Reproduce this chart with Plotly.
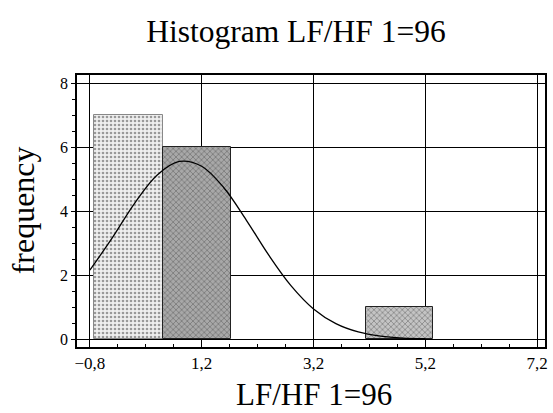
import plotly.graph_objects as go

# Histogram bars
bar_left = [-0.72, 0.50, 4.14]
bar_right = [0.50, 1.72, 5.33]
counts = [7, 6, 1]

# Fitted normal curve
curve_x = [-0.8, -0.4, 0.0, 0.4, 0.8, 1.2, 1.6, 2.0, 2.4, 2.8, 3.2, 3.6, 4.0, 4.4, 4.8, 5.2]
curve_y = [2.15, 3.16, 4.24, 5.12, 5.55, 5.40, 4.72, 3.71, 2.62, 1.66, 0.94, 0.48, 0.22, 0.09, 0.03, 0.01]

title_text = "Histogram LF/HF 1=96"
x_title = "LF/HF 1=96"
y_title = "frequency"

centers = [(a + b) / 2 for a, b in zip(bar_left, bar_right)]
widths = [b - a for a, b in zip(bar_left, bar_right)]

fig = go.Figure()
fig.add_trace(go.Bar(
    x=centers, y=counts, width=widths,
    marker=dict(
        color=["#efefef", "#a8a8a8", "#c4c4c4"],
        pattern=dict(shape=[".", "x", "x"], fgcolor=["#9a9a9a", "#4a4a4a", "#5a5a5a"],
                     bgcolor=["#f4f4f4", "#c8c8c8", "#dcdcdc"], size=4, solidity=0.35),
        line=dict(color=["#888", "#222", "#222"], width=1),
    ),
    showlegend=False,
))
fig.add_trace(go.Scatter(
    x=curve_x, y=curve_y, mode="lines", line=dict(color="black", width=1.3, shape="spline"),
    showlegend=False,
))

serif = "Liberation Serif"
fig.update_layout(
    width=553, height=413,
    margin=dict(l=77, r=5, t=75, b=66),
    paper_bgcolor="white", plot_bgcolor="white",
    separators=",.",
    bargap=0,
    title=dict(text=title_text, x=296 / 553, xanchor="center", xref="container",
               y=1 - 31 / 413, yanchor="middle",
               font=dict(family=serif, size=31.5, color="black")),
    font=dict(family=serif, color="black"),
    annotations=[
        dict(text=x_title, xref="paper", yref="paper", x=(316 - 77) / 471, y=-(394 - 347) / 272,
             xanchor="center", yanchor="middle", showarrow=False,
             font=dict(family=serif, size=31, color="black")),
        dict(text=y_title, xref="paper", yref="paper", x=-(77 - 23) / 471, y=(347 - 210) / 272,
             xanchor="center", yanchor="middle", showarrow=False, textangle=-90,
             font=dict(family=serif, size=32, color="black")),
    ],
)
fig.update_xaxes(
    range=[-1.03, 7.34], tickmode="linear", tick0=-0.8, dtick=2, tickformat=".1f",
    showgrid=True, gridcolor="black", gridwidth=1, zeroline=False,
    showline=True, linecolor="black", linewidth=1.5, mirror=True,
    ticks="inside", ticklen=5, tickcolor="black",
    minor=dict(tick0=-0.8, dtick=0.5, ticks="inside", ticklen=3, tickcolor="black", showgrid=False),
    tickfont=dict(family=serif, size=17, color="black"),
)
fig.update_yaxes(
    range=[-0.25, 8.25], tickmode="linear", tick0=0, dtick=2,
    showgrid=True, gridcolor="black", gridwidth=1, zeroline=False,
    showline=True, linecolor="black", linewidth=1.5, mirror=True,
    ticks="outside", ticklen=4, tickcolor="black",
    minor=dict(dtick=0.5, ticks="outside", ticklen=3, tickcolor="black", showgrid=False),
    tickfont=dict(family=serif, size=16, color="black"),
)

fig.write_html("out.html")
